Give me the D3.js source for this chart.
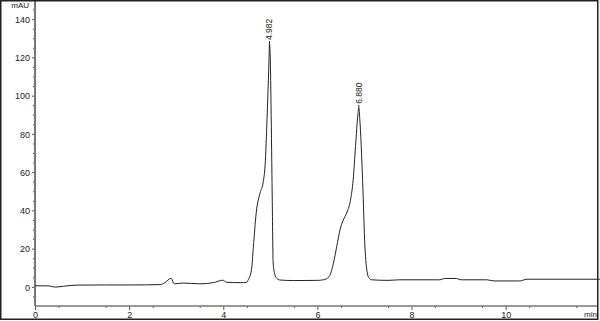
<!DOCTYPE html>
<meta charset="utf-8">
<head>
<title>Chromatogram</title>
<script src="https://d3js.org/d3.v7.min.js"></script>
<style>
  body { margin: 0; background: #f2f2f2; }
  svg { display: block; font-family: "Liberation Sans", Arial, sans-serif; }
</style>
</head>
<body>
<div id="chart"></div>
<script>
// retention time (min) and signal (mAU)
var times = [0, 0.3, 0.42, 0.6, 0.85, 1.5, 2.0, 2.66, 2.76, 2.89, 2.96, 3.15, 3.5, 3.79, 3.99, 4.07, 4.36,
  4.5, 4.53, 4.6, 4.64, 4.70, 4.78, 4.85, 4.89, 4.93, 4.97, 4.982, 5.0, 5.015, 5.04, 5.06, 5.09, 5.12, 5.2,
  5.5, 6.0, 6.13, 6.25, 6.34, 6.41, 6.48, 6.55, 6.62, 6.70, 6.76, 6.81, 6.86, 6.88, 6.90, 6.96, 7.01, 7.06,
  7.10, 7.15, 7.5, 7.75, 8.6, 8.7, 8.95, 9.05, 9.6, 9.75, 10.3, 10.45, 12];
var signal = [0.6, 0.5, -0.1, 0.3, 0.9, 1.0, 1.0, 1.2, 2.2, 4.5, 1.6, 2.0, 1.6, 2.2, 3.5, 2.4, 2.2,
  2.4, 3.7, 8.9, 21, 38.7, 49, 55, 64, 88, 117, 127, 118, 95, 47, 12.5, 7, 5.0, 3.6,
  3.3, 3.4, 3.7, 5.4, 12.4, 21, 29.8, 35, 38.5, 45, 56, 73.4, 90, 93.6, 88, 56, 21, 7.3,
  4.5, 3.7, 3.4, 3.7, 3.7, 4.4, 4.4, 3.7, 3.7, 3.1, 3.1, 4.0, 4.0];

var peakTimes = [4.982, 6.880];
var peakHeights = [127, 93.6];
var peakLabels = ["4.982", "6.880"];

var yMajor = [0, 20, 40, 60, 80, 100, 120, 140];
var xMajor = [0, 2, 4, 6, 8, 10];

var width = 600, height = 321;

var svg = d3.select("#chart").append("svg")
  .attr("width", width)
  .attr("height", height);

svg.append("rect")
  .attr("x", 0).attr("y", 0)
  .attr("width", 599).attr("height", 321)
  .attr("fill", "#fff");

var x = d3.scaleLinear().domain([0, 12]).range([35, 599.8]);
var y = d3.scaleLinear().domain([-10, 150]).range([306, 0]);

// y axis
var yAxis = svg.append("g")
  .attr("transform", "translate(35,0)")
  .call(d3.axisLeft(y).tickValues(yMajor).tickSize(3).tickPadding(2));
yAxis.select(".domain").remove();
yAxis.selectAll("text").style("font-size", "9px").attr("fill", "#222").attr("dy", "0.35em");
yAxis.selectAll("line").attr("stroke", "#555");

svg.append("g")
  .attr("transform", "translate(35,0)")
  .call(d3.axisLeft(y).tickValues(d3.range(-5, 150, 5).filter(function(d) { return d % 20 != 0; })).tickSize(2).tickFormat(""))
  .call(function(g) { g.select(".domain").remove(); })
  .selectAll("line").attr("stroke", "#555");

svg.append("line")
  .attr("x1", 35).attr("x2", 35)
  .attr("y1", 0).attr("y2", 306)
  .attr("stroke", "#777").attr("stroke-width", 2);

// x axis
var xAxis = svg.append("g")
  .attr("transform", "translate(0,306)")
  .call(d3.axisBottom(x).tickValues(xMajor).tickSize(4).tickPadding(2));
xAxis.select(".domain").remove();
xAxis.selectAll("text").style("font-size", "9px").attr("fill", "#222");
xAxis.selectAll("line").attr("stroke", "#555");

svg.append("g")
  .attr("transform", "translate(0,306)")
  .call(d3.axisBottom(x).tickValues(d3.range(0.5, 12, 1)).tickSize(2).tickFormat(""))
  .call(function(g) { g.select(".domain").remove(); })
  .selectAll("line").attr("stroke", "#555");

svg.append("line")
  .attr("x1", 35).attr("x2", 598)
  .attr("y1", 306).attr("y2", 306)
  .attr("stroke", "#777").attr("stroke-width", 1.5);

svg.append("text")
  .attr("x", 29).attr("y", 8)
  .attr("text-anchor", "end")
  .style("font-size", "8px")
  .attr("fill", "#222")
  .text("mAU");

svg.append("text")
  .attr("x", 597).attr("y", 317)
  .attr("text-anchor", "end")
  .style("font-size", "8px")
  .attr("fill", "#222")
  .text("min");

// trace
var line = d3.line()
  .x(function(d, i) { return x(times[i]); })
  .y(function(d) { return y(d); })
  .curve(d3.curveMonotoneX);

svg.append("path")
  .datum(signal)
  .attr("d", line)
  .attr("fill", "none")
  .attr("stroke", "#222")
  .attr("stroke-width", 1);

// peak labels
peakTimes.forEach(function(t, i) {
  var px = x(t), py = y(peakHeights[i]);
  svg.append("line")
    .attr("x1", px).attr("x2", px)
    .attr("y1", py).attr("y2", py - 3)
    .attr("stroke", "#222");
  svg.append("text")
    .attr("transform", "translate(" + (px + 3) + "," + (py - 4) + ") rotate(-90)")
    .style("font-size", "8.5px")
    .attr("fill", "#222")
    .text(peakLabels[i]);
});

// frame
svg.append("rect")
  .attr("x", 0.75).attr("y", 0.75)
  .attr("width", 597).attr("height", 318.5)
  .attr("fill", "none")
  .attr("stroke", "#222")
  .attr("stroke-width", 1.5);
</script>
</body>
